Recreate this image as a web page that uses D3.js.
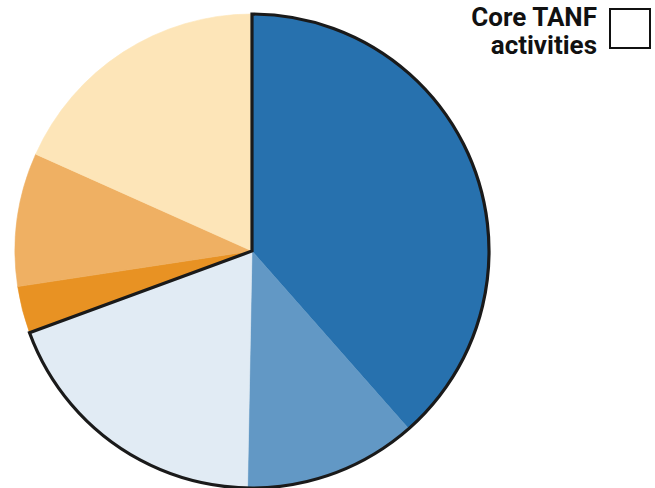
<!DOCTYPE html>
<html>
<head>
<meta charset="utf-8">
<script src="https://cdn.jsdelivr.net/npm/d3@7"></script>
<style>
  body { margin: 0; background: #fff; }
  svg { display: block; }
</style>
</head>
<body>
<svg width="655" height="488"></svg>
<script>
// slices, clockwise from 12 o'clock
let categories = ["Core A", "Core B", "Core C", "Other A", "Other B", "Other C"],
    values = [38.5, 11.8, 19.1, 3.2, 9.1, 18.3],
    colors = ["#2771ae", "#6298c5", "#e1ebf4", "#e89223", "#efb063", "#fde5b8"],
    core = [true, true, true, false, false, false];

let legendLines = ["Core TANF", "activities"];

let svg = d3.select("svg"),
    cx = 252,
    cy = 251,
    radius = 237;

let pie = d3.pie().sort(null).value(function(d) { return d; });
let arcs = pie(values);

let arc = d3.arc().innerRadius(0).outerRadius(radius);

let g = svg.append("g")
    .attr("transform", "translate(" + cx + "," + cy + ")");

g.selectAll(".slice")
    .data(arcs)
  .enter().append("path")
    .attr("class", "slice")
    .attr("d", arc)
    .attr("fill", function(d, i) { return colors[i]; })
    .attr("stroke", function(d, i) { return colors[i]; })
    .attr("stroke-width", 0.6);

// outline round the core group
let coreArcs = arcs.filter(function(d, i) { return core[i]; });
g.append("path")
    .attr("d", arc({
      startAngle: d3.min(coreArcs, function(d) { return d.startAngle; }),
      endAngle: d3.max(coreArcs, function(d) { return d.endAngle; })
    }))
    .attr("fill", "none")
    .attr("stroke", "#1a1a1a")
    .attr("stroke-width", 3.2)
    .attr("stroke-linejoin", "miter");

// legend
let legend = svg.append("g");

legend.selectAll("text")
    .data(legendLines)
  .enter().append("text")
    .attr("x", 597)
    .attr("y", function(d, i) { return 26 + i * 28; })
    .attr("text-anchor", "end")
    .attr("font-family", "Roboto, 'Open Sans', sans-serif")
    .attr("font-weight", "bold")
    .attr("font-size", 26)
    .attr("fill", "#111")
    .text(function(d) { return d; });

legend.append("rect")
    .attr("x", 610)
    .attr("y", 9)
    .attr("width", 40)
    .attr("height", 39)
    .attr("fill", "#fff")
    .attr("stroke", "#111")
    .attr("stroke-width", 2);
</script>
</body>
</html>
